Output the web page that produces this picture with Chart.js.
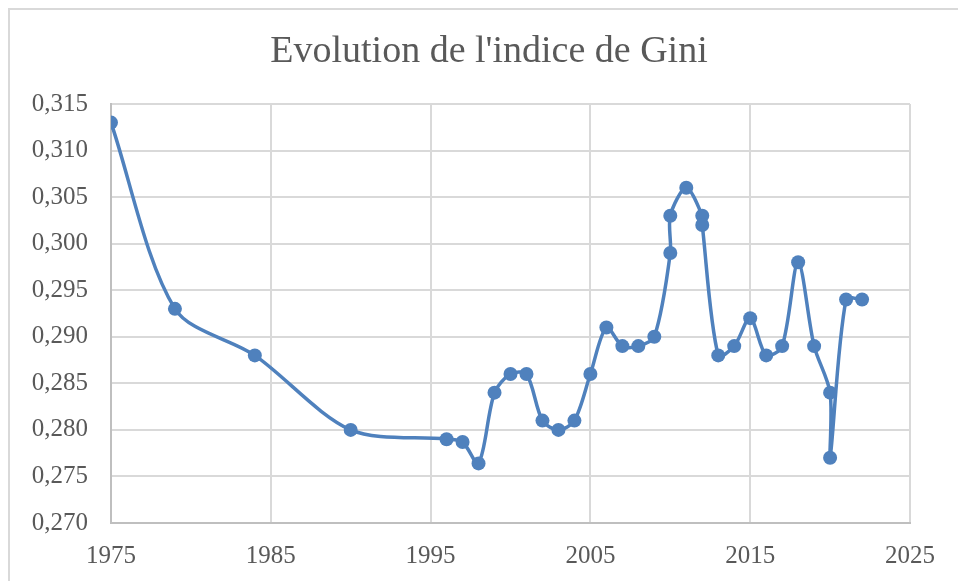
<!DOCTYPE html>
<html>
<head>
<meta charset="utf-8">
<script src="https://cdn.jsdelivr.net/npm/chart.js@4"></script>
<style>
  html, body { margin: 0; padding: 0; background: #fff; }
  #wrap { position: relative; width: 958px; height: 581px; }
  #frame { position: absolute; left: 8px; top: 8px; right: 0; bottom: 0;
           border-left: 2px solid #d9d9d9; border-top: 2px solid #d9d9d9; }
  #title { position: absolute; left: 189px; width: 600px; top: 27px; text-align: center;
           font-family: 'Liberation Serif'; font-size: 38px; line-height: 45.6px;
           color: #595959; white-space: nowrap; }
  canvas { position: absolute; left: 0; top: 0; }
</style>
</head>
<body>
<div id="wrap">
  <div id="frame"></div>
  <canvas id="giniChart" width="958" height="581"></canvas>
  <div id="title"></div>
</div>
<script>
// Gini index values, in the order the line joins them
const years = [1975, 1979, 1984, 1990, 1996, 1997, 1998, 1999, 2000, 2001, 2002, 2003, 2004,
               2005, 2006, 2007, 2008, 2009, 2010, 2010, 2011, 2012, 2012, 2013, 2014, 2015,
               2016, 2017, 2018, 2019, 2020, 2020, 2021, 2022];
const gini = [0.313, 0.293, 0.288, 0.280, 0.279, 0.2787, 0.2764, 0.284, 0.286, 0.286, 0.281, 0.280, 0.281,
              0.286, 0.291, 0.289, 0.289, 0.290, 0.299, 0.303, 0.306, 0.303, 0.302, 0.288, 0.289, 0.292,
              0.288, 0.289, 0.298, 0.289, 0.284, 0.277, 0.294, 0.294];

const xTicks = [1975, 1985, 1995, 2005, 2015, 2025];
const yTicks = [0.270, 0.275, 0.280, 0.285, 0.290, 0.295, 0.300, 0.305, 0.310, 0.315];

const titleText = "Evolution de l'indice de Gini";
document.getElementById('title').textContent = titleText;

const points = years.map((y, i) => ({ x: y, y: gini[i] }));

const textColor = '#595959';
const gridColor = '#d9d9d9';
const blue = '#4f81bd';

const ctx = document.getElementById('giniChart').getContext('2d');
const giniChart = new Chart(ctx, {
  type: 'scatter',
  data: {
    datasets: [{
      label: 'Gini',
      data: points,
      showLine: true,
      tension: 0.3,
      borderColor: blue,
      borderWidth: 3.5,
      backgroundColor: blue,
      pointRadius: 7,
      pointBorderWidth: 0,
      pointBackgroundColor: blue
    }]
  },
  options: {
    responsive: false,
    animation: false,
    layout: { padding: { left: 0, right: 48, top: 104, bottom: 0 } },
    plugins: {
      legend: { display: false },
      tooltip: { enabled: false },
      title: { display: false }
    },
    scales: {
      x: {
        type: 'linear',
        min: 1975,
        max: 2025,
        afterBuildTicks: axis => { axis.ticks = xTicks.map(v => ({ value: v })); },
        afterFit: axis => { axis.height = 58; },
        grid: { color: gridColor, lineWidth: 2, drawTicks: false },
        border: { color: '#bfbfbf', width: 2 },
        ticks: {
          color: textColor,
          padding: 18,
          maxRotation: 0,
          font: { family: 'Liberation Serif', size: 25 },
          callback: v => String(v)
        }
      },
      y: {
        min: 0.270,
        max: 0.315,
        afterBuildTicks: axis => { axis.ticks = yTicks.map(v => ({ value: v })); },
        afterFit: axis => { axis.width = 111; },
        grid: { color: gridColor, lineWidth: 2, drawTicks: false },
        border: { color: '#bfbfbf', width: 2 },
        ticks: {
          color: textColor,
          padding: 23,
          font: { family: 'Liberation Serif', size: 25 },
          callback: v => v.toFixed(3).replace('.', ',')
        }
      }
    }
  }
});
</script>
</body>
</html>
